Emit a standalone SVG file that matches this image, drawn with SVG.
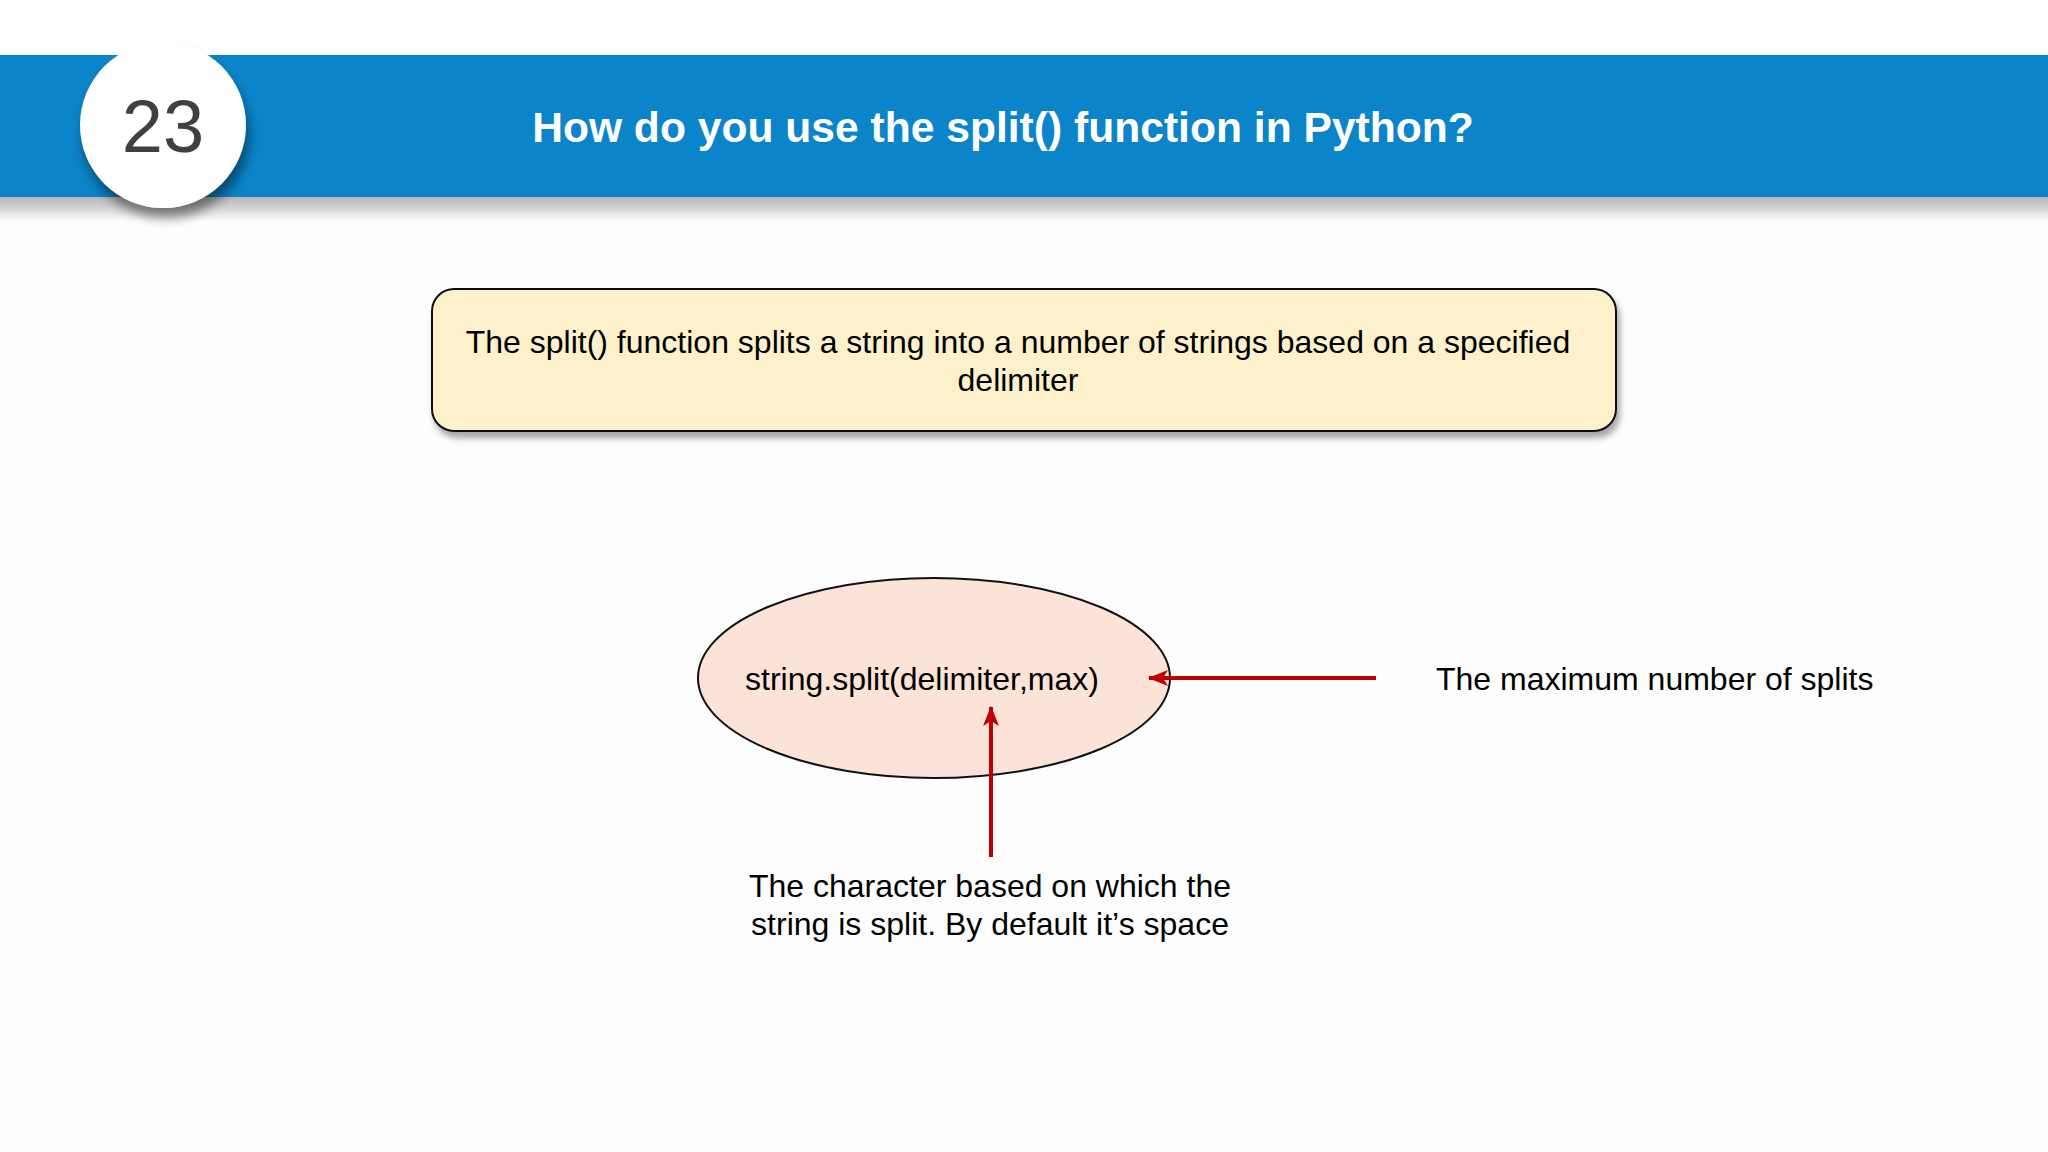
<svg xmlns="http://www.w3.org/2000/svg" width="2048" height="1152" viewBox="0 0 2048 1152">
<defs>
<filter id="sh" x="-20%" y="-20%" width="140%" height="160%">
<feGaussianBlur in="SourceAlpha" stdDeviation="6"/>
<feOffset dx="3" dy="10" result="b"/>
<feComponentTransfer><feFuncA type="linear" slope="0.45"/></feComponentTransfer>
<feMerge><feMergeNode/><feMergeNode in="SourceGraphic"/></feMerge>
</filter>
<filter id="bsh" x="-5%" y="-20%" width="110%" height="150%">
<feGaussianBlur in="SourceAlpha" stdDeviation="3"/>
<feOffset dx="3" dy="6" result="b"/>
<feComponentTransfer><feFuncA type="linear" slope="0.35"/></feComponentTransfer>
<feMerge><feMergeNode/><feMergeNode in="SourceGraphic"/></feMerge>
</filter>
<marker id="ah" markerWidth="20" markerHeight="16" refX="19" refY="8" orient="auto" markerUnits="userSpaceOnUse">
<path d="M0,0 L20,8 L0,16 L5,8 Z" fill="#c00000"/>
</marker>
<linearGradient id="bandsh" x1="0" y1="0" x2="0" y2="1">
<stop offset="0" stop-color="#b8b8b8"/>
<stop offset="0.5" stop-color="#d6d6d6"/>
<stop offset="1" stop-color="#fdfdfd"/>
</linearGradient>
</defs>
<style>
.t{font-family:"Liberation Sans",Arial,sans-serif;fill:#000;}
.conn{stroke:#c00000;stroke-width:4;fill:none;marker-end:url(#ah);}
</style>
<rect x="0" y="0" width="2048" height="1152" fill="#fdfdfd"/>
<rect x="0" y="0" width="2048" height="55" fill="#ffffff"/>
<g id="header">
<rect x="0" y="197" width="2048" height="24" fill="url(#bandsh)"/>
<rect x="0" y="55" width="2048" height="142" fill="#0b84c9"/>
<text x="1003" y="142" text-anchor="middle" font-family="Liberation Sans,Arial,sans-serif" font-weight="bold" font-size="42.6" fill="#ffffff">How do you use the split() function in Python?</text>
</g>
<g id="number">
<circle cx="163" cy="125" r="83" fill="#ffffff" filter="url(#sh)"/>
<text x="163" y="152" text-anchor="middle" font-family="Liberation Sans,Arial,sans-serif" font-size="74" fill="#404040">23</text>
</g>
<g id="definition">
<rect x="432" y="289" width="1184" height="142" rx="22" ry="22" fill="#fdf1cc" stroke="#111" stroke-width="2" filter="url(#bsh)"/>
<text class="t" x="1018" y="353" text-anchor="middle" font-size="32">The split() function splits a string into a number of strings based on a specified</text>
<text class="t" x="1018" y="391" text-anchor="middle" font-size="32">delimiter</text>
</g>
<g id="syntax">
<ellipse cx="934" cy="678" rx="236" ry="100" fill="#fbe4d7" stroke="#111" stroke-width="2"/>
<text class="t" x="922" y="690" text-anchor="middle" font-size="32">string.split(delimiter,max)</text>
</g>
<g id="max-label">
<text class="t" x="1436" y="690" font-size="32">The maximum number of splits</text>
</g>
<g id="delimiter-label">
<text class="t" x="990" y="897" text-anchor="middle" font-size="32">The character based on which the</text>
<text class="t" x="990" y="935" text-anchor="middle" font-size="32">string is split. By default it’s space</text>
</g>
<g id="connectors">
<line class="conn" x1="1376" y1="678" x2="1149" y2="678"/>
<line class="conn" x1="991" y1="857" x2="991" y2="707"/>
</g>
</svg>
